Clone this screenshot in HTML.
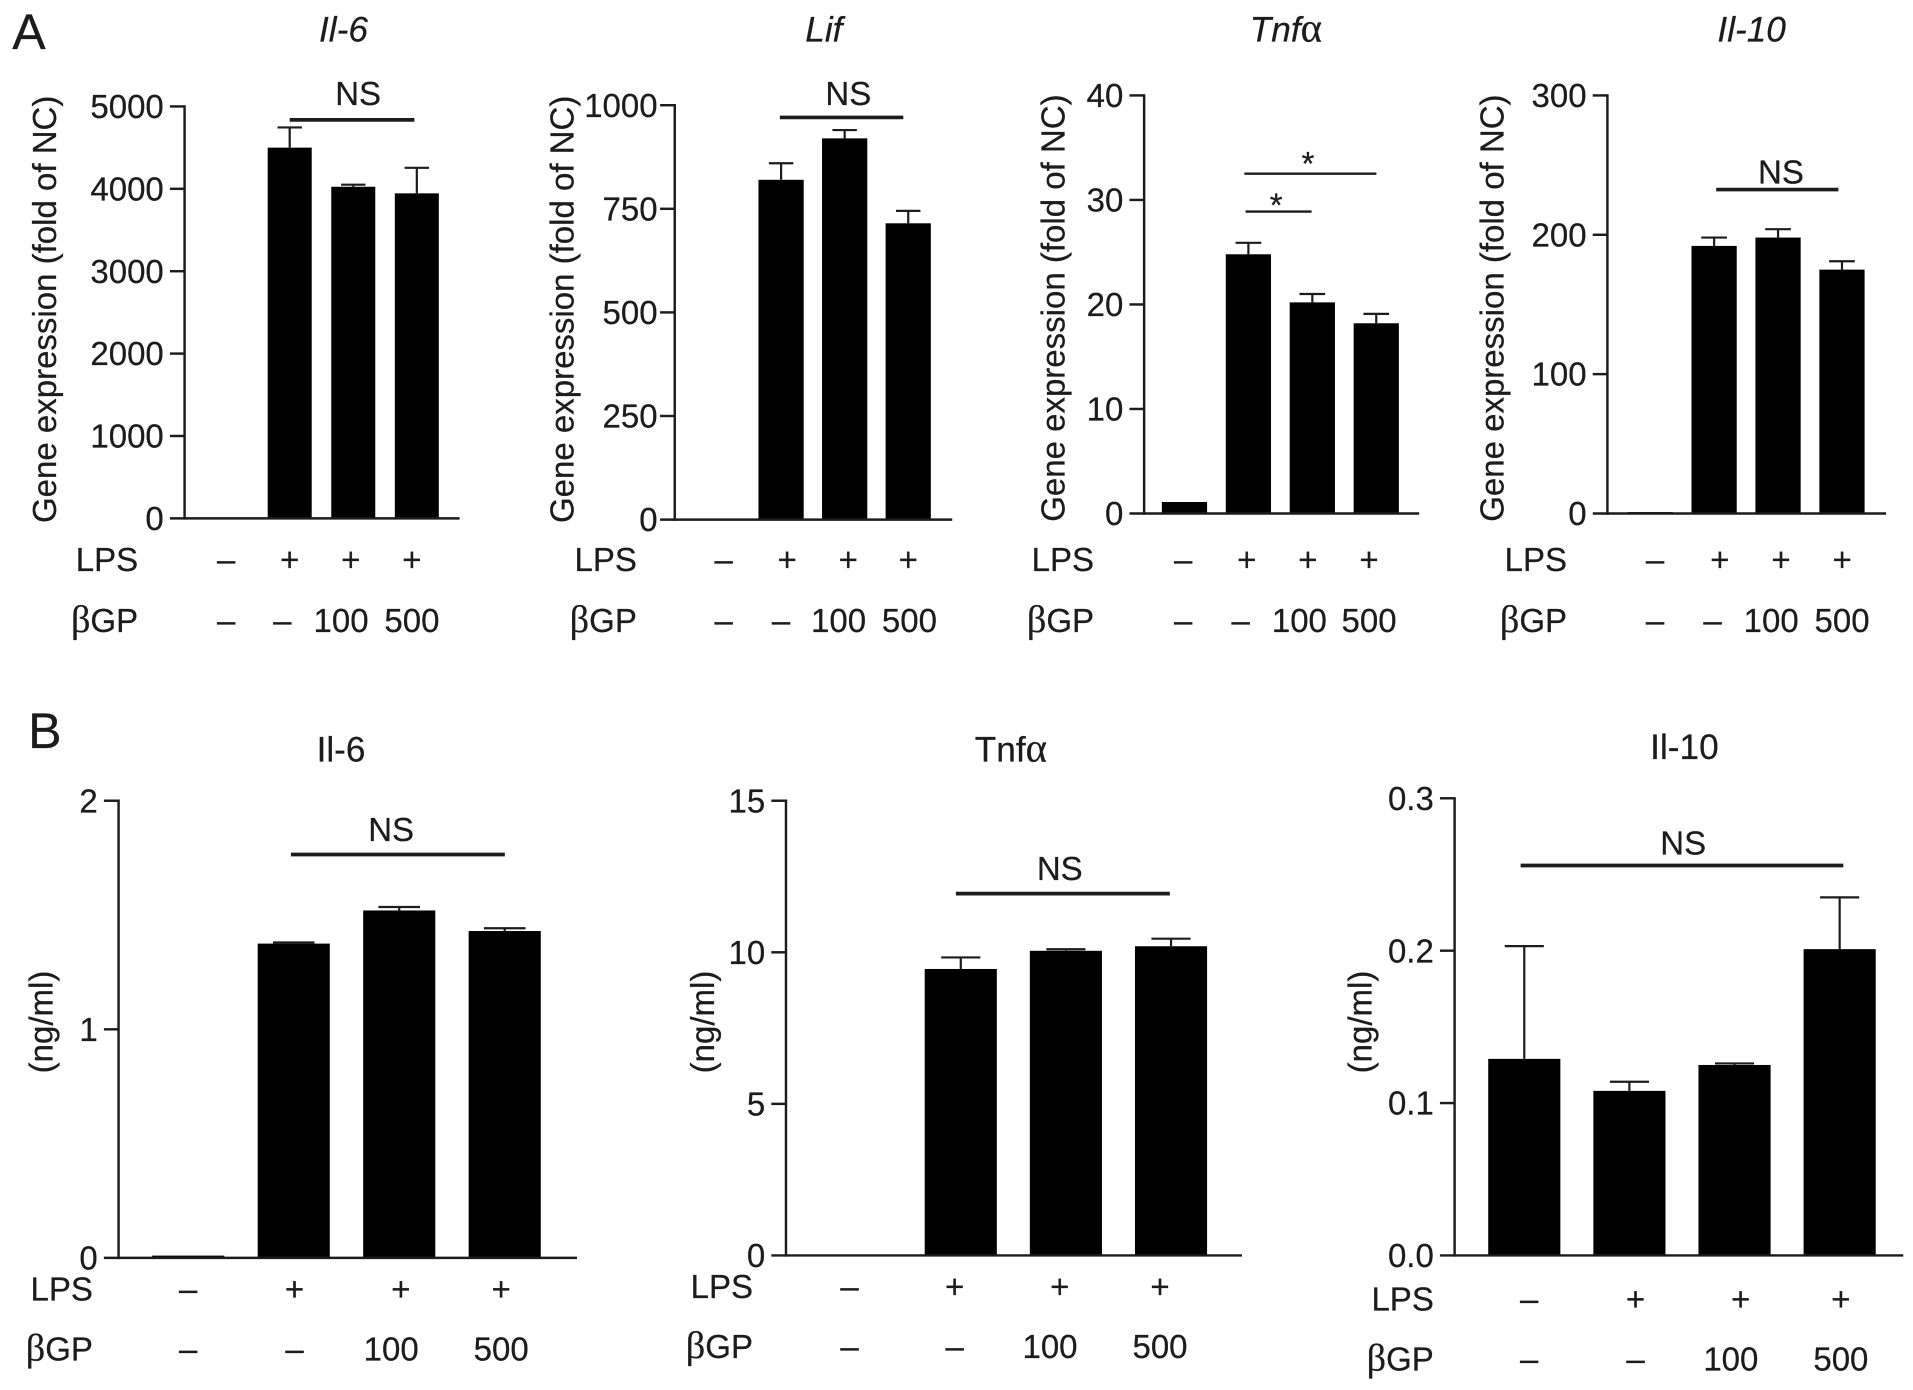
<!DOCTYPE html>
<html lang="en">
<head>
<meta charset="utf-8">
<title>Gene expression and cytokine bar charts</title>
<style>
html,body{margin:0;padding:0;background:#fff;width:1913px;height:1390px;overflow:hidden}
svg{display:block}
text{font-family:"Liberation Sans",sans-serif;fill:#1c1c1c;stroke:#1c1c1c;stroke-width:0.2}
</style>
</head>
<body>
<svg id="figure" xmlns="http://www.w3.org/2000/svg" width="1913" height="1390" viewBox="1 1 1565 1137"></svg>
<script>
// ---- shared category rows ----
const lpsRow = ['–', '+', '+', '+'];
const bgpRow = ['–', '–', '100', '500'];

// ---- Panel A data ----
const a1Values = [0, 4500, 4025, 3945];
const a1Errors = [0, 245, 25, 310];
const a1Ticks = [0, 1000, 2000, 3000, 4000, 5000];
const a1TickLabels = ['0', '1000', '2000', '3000', '4000', '5000'];

const a2Values = [0, 820, 920, 715];
const a2Errors = [0, 40, 20, 30];
const a2Ticks = [0, 250, 500, 750, 1000];
const a2TickLabels = ['0', '250', '500', '750', '1000'];

const a3Values = [1.1, 24.8, 20.2, 18.2];
const a3Errors = [0, 1.1, 0.8, 0.9];
const a3Ticks = [0, 10, 20, 30, 40];
const a3TickLabels = ['0', '10', '20', '30', '40'];

const a4Values = [1, 192, 198, 175];
const a4Errors = [0, 6, 6, 6];
const a4Ticks = [0, 100, 200, 300];
const a4TickLabels = ['0', '100', '200', '300'];

// ---- Panel B data ----
const b1Values = [0.01, 1.375, 1.52, 1.43];
const b1Errors = [0, 0.005, 0.015, 0.012];
const b1Ticks = [0, 1, 2];
const b1TickLabels = ['0', '1', '2'];

const b2Values = [0, 9.45, 10.05, 10.2];
const b2Errors = [0, 0.38, 0.05, 0.25];
const b2Ticks = [0, 5, 10, 15];
const b2TickLabels = ['0', '5', '10', '15'];

const b3Values = [0.129, 0.108, 0.125, 0.201];
const b3Errors = [0.074, 0.006, 0.001, 0.034];
const b3Ticks = [0, 0.1, 0.2, 0.3];
const b3TickLabels = ['0.0', '0.1', '0.2', '0.3'];

const NS = 'http://www.w3.org/2000/svg';
const root = document.getElementById('figure');
const INK = '#1c1c1c';
const FONT = 27;
const SERIF = '"Liberation Serif",serif';

function line(parent, x1, y1, x2, y2, w, name) {
  const el = document.createElementNS(NS, 'line');
  el.setAttribute('x1', x1);
  el.setAttribute('y1', y1);
  el.setAttribute('x2', x2);
  el.setAttribute('y2', y2);
  el.setAttribute('stroke', INK);
  el.setAttribute('stroke-width', w);
  
  
  parent.appendChild(el);
  return el;
}

// parts: list of [string, isGreek]
function label(parent, x, y, parts, anchor, name, opts) {
  opts = opts || {};
  const el = document.createElementNS(NS, 'text');
  el.setAttribute('x', x);
  el.setAttribute('y', y);
  el.setAttribute('text-anchor', anchor);
  el.setAttribute('font-size', opts.size || FONT);
  if (opts.italic) el.setAttribute('font-style', 'italic');
  if (opts.rotate) el.setAttribute('transform', 'rotate(-90 ' + x + ' ' + y + ')');
  parts.forEach(function (p) {
    const t = document.createElementNS(NS, 'tspan');
    t.textContent = p[0];
    if (p[1]) t.setAttribute('style', 'font-family:' + SERIF + ';font-size:1.16em;font-style:normal');
    el.appendChild(t);
  });
  
  
  parent.appendChild(el);
  return el;
}

function drawPanel(p) {
  const g = document.createElementNS(NS, 'g');
  
  
  root.appendChild(g);

  const yScale = function (v) { return p.zeroY - (v / p.maxV) * (p.zeroY - p.topY); };
  const xScale = function (i) { return p.firstX + i * p.stepX; };

  // bars and error bars
  p.values.forEach(function (v, i) {
    const cx = xScale(i);
    const rect = document.createElementNS(NS, 'rect');
    rect.setAttribute('x', cx - p.barW / 2);
    rect.setAttribute('y', yScale(v));
    rect.setAttribute('width', p.barW);
    rect.setAttribute('height', Math.max(0, p.zeroY - yScale(v)));
    rect.setAttribute('fill', '#000');
    
    
    g.appendChild(rect);
    if (p.errors[i] > 0) {
      const top = yScale(v + p.errors[i]);
      line(g, cx, yScale(v), cx, top, 1.8, p.id + '-error-stem-' + (i + 1));
      line(g, cx - p.capW / 2, top, cx + p.capW / 2, top, 1.8, p.id + '-error-cap-' + (i + 1));
    }
  });

  // axes
  line(g, p.axisX, p.topY - 1, p.axisX, p.zeroY + 1, 2, p.id + '-y-axis');
  line(g, p.axisX - 12, p.zeroY, p.axisEnd, p.zeroY, 2, p.id + '-x-axis');
  p.ticks.forEach(function (t, i) {
    const y = yScale(t);
    if (t !== 0) line(g, p.axisX - 12, y, p.axisX, y, 2, p.id + '-y-tick-' + i);
    label(g, p.axisX - 17 - (p.labelGap || 0), y + 9.5, [[p.tickLabels[i], false]], 'end', p.id + '-y-tick-label-' + i);
  });

  // titles
  label(g, p.titleX, p.titleY, p.titleParts, 'middle', p.id + '-title', { italic: p.italic, size: 28.8 });
  label(g, p.yTitleX, p.yTitleY, [[p.yTitle, false]], 'middle', p.id + '-y-axis-title', { rotate: true });

  // condition rows
  label(g, p.rowLabelX, p.lpsY, [['LPS', false]], 'end', p.id + '-lps-label');
  label(g, p.rowLabelX, p.bgpY, [['β', true], ['GP', false]], 'end', p.id + '-bgp-label');
  lpsRow.forEach(function (s, i) {
    label(g, p.lpsX[i], p.lpsY, [[s, false]], 'middle', p.id + '-lps-value-' + (i + 1));
  });
  bgpRow.forEach(function (s, i) {
    label(g, p.bgpX[i], p.bgpY, [[s, false]], 'middle', p.id + '-bgp-value-' + (i + 1));
  });

  // significance annotations
  p.sig.forEach(function (s, i) {
    line(g, s.x1, s.y, s.x2, s.y, s.w, p.id + '-significance-line-' + (i + 1));
    label(g, s.tx, s.ty, [[s.text, false]], 'middle', p.id + '-significance-label-' + (i + 1));
  });
}

const YT = 'Gene expression (fold of NC)';
const YB = '(ng/ml)';

drawPanel({ id: 'a-il6', values: a1Values, errors: a1Errors, ticks: a1Ticks, tickLabels: a1TickLabels, maxV: 5000,
  axisX: 152, axisEnd: 377, topY: 88, zeroY: 425, firstX: 186, stepX: 52, barW: 36, capW: 20,
  titleParts: [['Il-6', false]], italic: true, titleX: 282, titleY: 35, yTitle: YT, yTitleX: 47, yTitleY: 254,
  rowLabelX: 114, lpsY: 468, bgpY: 518, lpsX: [186, 238, 288, 338], bgpX: [186, 232, 280, 338],
  sig: [{ x1: 238, x2: 340, y: 99, w: 3, tx: 294, ty: 87, text: 'NS' }] });

drawPanel({ id: 'a-lif', values: a2Values, errors: a2Errors, ticks: a2Ticks, tickLabels: a2TickLabels, maxV: 1000, labelGap: -3,
  axisX: 553, axisEnd: 780, topY: 87, zeroY: 426, firstX: 588, stepX: 52, barW: 37, capW: 20,
  titleParts: [['Lif', false]], italic: true, titleX: 675, titleY: 35, yTitle: YT, yTitleX: 470, yTitleY: 254,
  rowLabelX: 522, lpsY: 468, bgpY: 518, lpsX: [593, 645, 695, 744], bgpX: [593, 640, 687, 745],
  sig: [{ x1: 639, x2: 740, y: 97, w: 3, tx: 695, ty: 87, text: 'NS' }] });

drawPanel({ id: 'a-tnfa', values: a3Values, errors: a3Errors, ticks: a3Ticks, tickLabels: a3TickLabels, maxV: 40,
  axisX: 937, axisEnd: 1162, topY: 79, zeroY: 421, firstX: 970, stepX: 52.3, barW: 37, capW: 21,
  titleParts: [['Tnf', false], ['α', true]], italic: true, titleX: 1053, titleY: 35, yTitle: YT, yTitleX: 872, yTitleY: 253,
  rowLabelX: 896, lpsY: 468, bgpY: 518, lpsX: [969, 1021, 1071, 1121], bgpX: [969, 1016, 1064, 1121],
  sig: [{ x1: 1019, x2: 1127, y: 143, w: 2, tx: 1071, ty: 144, text: '*' },
        { x1: 1020, x2: 1074, y: 174, w: 2, tx: 1045, ty: 178, text: '*' }] });

drawPanel({ id: 'a-il10', values: a4Values, errors: a4Errors, ticks: a4Ticks, tickLabels: a4TickLabels, maxV: 300,
  axisX: 1316, axisEnd: 1544, topY: 79, zeroY: 421, firstX: 1351, stepX: 52.3, barW: 37, capW: 21,
  titleParts: [['Il-10', false]], italic: true, titleX: 1434, titleY: 35, yTitle: YT, yTitleX: 1231, yTitleY: 253,
  rowLabelX: 1283, lpsY: 468, bgpY: 518, lpsX: [1355, 1408, 1458, 1508], bgpX: [1355, 1402, 1450, 1508],
  sig: [{ x1: 1405, x2: 1505, y: 156, w: 3, tx: 1458, ty: 151, text: 'NS' }] });

drawPanel({ id: 'b-il6', values: b1Values, errors: b1Errors, ticks: b1Ticks, tickLabels: b1TickLabels, maxV: 2,
  axisX: 98, axisEnd: 473, topY: 656, zeroY: 1030, firstX: 155, stepX: 86.3, barW: 59, capW: 34,
  titleParts: [['Il-6', false]], italic: false, titleX: 280, titleY: 624, yTitle: YB, yTitleX: 44, yTitleY: 837,
  rowLabelX: 77, lpsY: 1065, bgpY: 1114, lpsX: [155, 242, 329, 411], bgpX: [155, 242, 321, 411],
  sig: [{ x1: 239, x2: 414, y: 700, w: 3, tx: 321, ty: 689, text: 'NS' }] });

drawPanel({ id: 'b-tnfa', values: b2Values, errors: b2Errors, ticks: b2Ticks, tickLabels: b2TickLabels, maxV: 15,
  axisX: 644, axisEnd: 1017, topY: 656, zeroY: 1028, firstX: 701, stepX: 86, barW: 59, capW: 32,
  titleParts: [['Tnf', false], ['α', true]], italic: false, titleX: 828, titleY: 624, yTitle: YB, yTitleX: 585, yTitleY: 837,
  rowLabelX: 617, lpsY: 1063, bgpY: 1112, lpsX: [696, 782, 868, 950], bgpX: [696, 782, 860, 950],
  sig: [{ x1: 783, x2: 958, y: 732, w: 3, tx: 868, ty: 721, text: 'NS' }] });

drawPanel({ id: 'b-il10', values: b3Values, errors: b3Errors, ticks: b3Ticks, tickLabels: b3TickLabels, maxV: 0.3,
  axisX: 1191, axisEnd: 1558, topY: 654, zeroY: 1028, firstX: 1248, stepX: 86, barW: 59, capW: 32,
  titleParts: [['Il-10', false]], italic: false, titleX: 1379, titleY: 622, yTitle: YB, yTitleX: 1123, yTitleY: 837,
  rowLabelX: 1174, lpsY: 1073, bgpY: 1122, lpsX: [1252, 1339, 1425, 1507], bgpX: [1252, 1339, 1417, 1507],
  sig: [{ x1: 1245, x2: 1509, y: 709, w: 3, tx: 1378, ty: 700, text: 'NS' }] });

const panelA = label(root, 11, 41, [['A', false]], 'start', 'panel-a-label', { size: 41 });
const panelB = label(root, 24, 613, [['B', false]], 'start', 'panel-b-label', { size: 41 });
</script>
</body>
</html>
